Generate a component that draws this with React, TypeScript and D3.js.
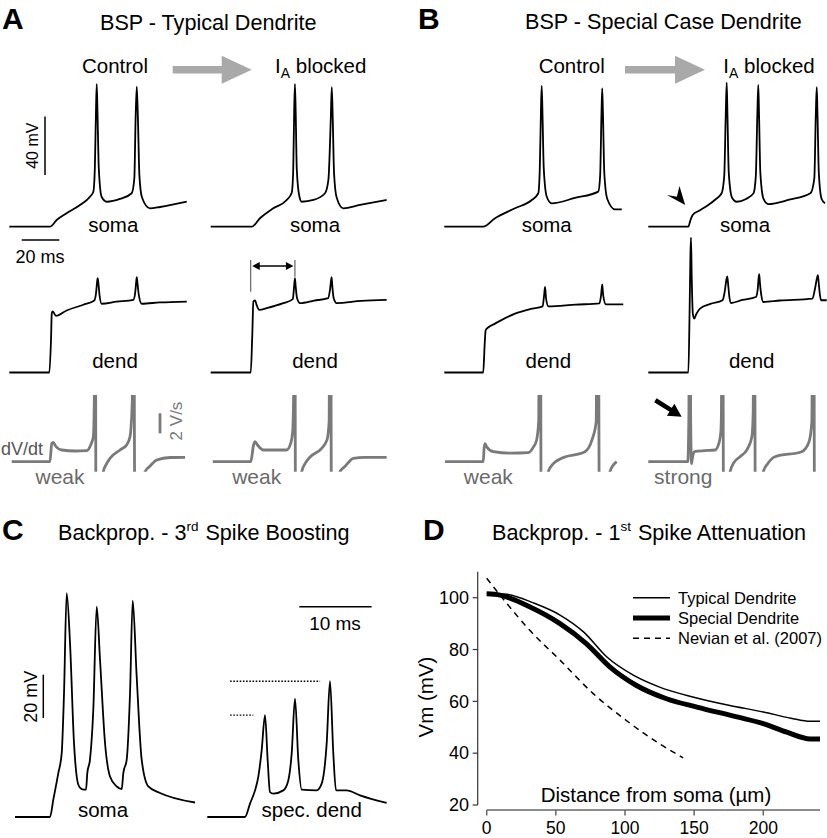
import * as d3 from 'd3';

type Pt = [number, number];

// ---------- A / B : time (ms), Vm (mV), dV/dt (V/s) ----------
const somaCtrlA: Pt[] = [[0,-65],[21.6,-65],[25.2,-60.4],[30.5,-55.8],[37.6,-50.1],[42.9,-44.5],[44.7,-41],[45.5,-25],[46.1,14],[46.5,32.7],[46.9,14],[47.6,-25],[49.1,-44.5],[51.8,-47.9],[58.9,-46],[65.1,-42.1],[66.5,-32],[67.2,10],[67.8,30.9],[68.4,10],[69.2,-30],[70.6,-45],[74.8,-52.4],[80.2,-51.5],[94.4,-47.9]];
const somaBlkA: Pt[] = [[0,-65],[21.8,-65],[26.2,-59.2],[33.3,-52.4],[40.4,-46.7],[43.1,-41.7],[43.9,-26],[44.4,14],[44.8,32.7],[45.2,14],[45.8,-26],[47.2,-44.5],[48.4,-47.9],[54.6,-46.7],[60.8,-42.1],[62.6,-33],[63.9,10],[64.4,30.5],[64.9,10],[65.6,-28],[67.0,-45],[70.5,-52.4],[79.4,-50.1],[93.6,-46.7]];
const dendCtrlA: Pt[] = [[0,-65],[21.3,-65],[22.2,-42],[22.6,-24.3],[23.1,-23.2],[24.8,-26.2],[30.5,-22.5],[39.4,-18.6],[45.2,-15.7],[46.2,-10],[46.7,-3],[47.0,-0.3],[47.4,-4],[48.0,-12],[49.1,-17.9],[57,-16.5],[66.0,-15.2],[67.0,-10],[67.5,-3],[67.8,0.3],[68.2,-4],[68.9,-12],[70.4,-17.9],[80,-17],[94.4,-16.4]];
const dendBlkA: Pt[] = [[0,-65],[21.3,-65],[22.1,-40],[22.7,-16.4],[23.6,-15.7],[24.5,-19],[25.9,-22.1],[29.8,-20.9],[38.6,-17.5],[43.7,-14.7],[44.3,-7],[44.8,-0.3],[45.2,-6],[45.9,-14],[47.5,-17.5],[55,-15.8],[62.5,-14],[63.5,-8],[64.3,0.3],[64.7,-6],[65.4,-14],[67.0,-17.5],[80,-16],[93.6,-15.2]];
const dvCtrlA: Pt[] = [[1.3,0],[21.6,0],[22.6,1.84],[23.4,1.94],[24.6,1.57],[27.9,1.17],[34.9,1.07],[41.2,1.1],[43.5,1.77],[44.7,2.5],[45.2,6],[45.6,40],[46.0,0],[46.3,-20],[47.5,-8],[49.0,-2.5],[50.0,-1.0],[51.5,-0.3],[53.6,0.34],[58.9,1.17],[62.5,1.7],[64.2,2.5],[65.4,6],[65.9,40],[66.6,0],[67.2,-20],[68.4,-8],[70.6,-2.5],[72.2,-1.0],[74.9,-0.43],[78.4,0.17],[85.6,0.42],[93.5,0.44]];
const dvBlkA: Pt[] = [[1.1,0],[21.3,0],[22.8,1.67],[23.6,2.0],[24.9,1.67],[28.0,1.17],[40.4,1.17],[42.5,1.8],[43.6,3],[44.2,8],[44.6,40],[45.0,0],[45.3,-20],[46.3,-8],[47.6,-2.5],[48.4,-1.0],[50.5,-0.1],[53.0,0.5],[59.0,1.34],[61.9,2.2],[63.0,4],[63.6,40],[64.1,0],[64.5,-20],[65.7,-8],[67.6,-2.5],[68.8,-1.0],[71.5,-0.45],[75.9,0.34],[82,0.43],[93.6,0.44]];

const somaCtrlB: Pt[] = [[0,-65],[20.7,-65],[27.0,-59.2],[37.6,-52.4],[46.5,-46.7],[50.0,-42.1],[50.8,-25],[51.4,14],[51.8,31.4],[52.2,14],[52.9,-25],[54.5,-44.5],[57.1,-49.0],[69.5,-45.3],[81.9,-41.0],[82.9,-30],[83.6,12],[84.0,29.8],[84.4,12],[85.1,-28],[86.7,-46],[90.8,-53.1],[94.4,-53.1]];
const somaBlkB: Pt[] = [[0,-65],[21.3,-65],[22.3,-61],[23.6,-57],[27,-54],[31.9,-50.1],[36,-46],[39.0,-42.1],[40.4,-30],[41.2,12],[41.7,33.6],[42.1,12],[42.8,-28],[44.5,-45],[47.0,-47.9],[52,-46],[56.0,-42],[57.2,-30],[58.0,12],[58.5,32.1],[58.9,12],[59.6,-28],[61.3,-46],[63.8,-49.5],[75,-46.5],[86.2,-42.1],[88.3,-32],[89.1,12],[89.6,30.5],[90.0,12],[90.7,-28],[92.2,-46],[94.0,-49]];
const dendCtrlB: Pt[] = [[0,-65],[20.7,-65],[21.5,-45],[22.0,-36.1],[23.5,-34],[27.0,-31.5],[37.6,-24.7],[46,-21.5],[52.3,-19.7],[53.1,-12],[53.6,-6.4],[54.1,-14],[55.4,-19.7],[70,-18.5],[82.5,-17.7],[83.4,-12],[84.0,-4.6],[84.5,-12],[86,-18.4],[95.2,-18.4]];
const dendBlkB: Pt[] = [[0,-65],[21.3,-65],[22.0,-20],[22.4,15],[22.7,27.4],[23.1,0],[23.7,-25],[24.5,-28.1],[25.5,-25],[27.5,-21.2],[33,-18],[39.5,-15.5],[40.6,-10],[41.6,-1],[42.0,0.9],[42.5,-5],[43.1,-13],[44.0,-17.4],[50,-15.3],[57.2,-13.3],[58.2,-8],[58.7,0],[59.0,2.3],[59.4,-4],[60.1,-12],[61.2,-16.7],[70,-15.7],[87.3,-14.4],[88.6,-8],[89.8,0],[90.2,1.6],[90.6,-3],[91.2,-11],[91.9,-15.5],[94.9,-15.5]];
const dvCtrlB: Pt[] = [[0.4,0],[20.7,0],[21.2,1.4],[21.7,1.8],[22.5,1.5],[26.1,1.0],[35,0.85],[44.7,0.9],[47.5,1.5],[49.1,2.17],[50.2,4],[50.9,40],[51.4,0],[51.8,-20],[53,-8],[54.5,-2.5],[55.3,-1.0],[58,-0.2],[62.4,0.34],[74.8,1.0],[78.6,2.2],[80.8,4],[81.6,40],[82.3,0],[82.8,-20],[84,-8],[86.5,-2.5],[88.1,-1.0],[91.7,0]];
const dvBlkB: Pt[] = [[0,0],[21.0,0],[21.6,5],[22.0,40],[22.5,5],[23.0,-0.2],[23.4,0.3],[24.5,1.0],[30,1.1],[35.5,1.17],[37.5,1.8],[38.6,3],[38.9,5],[39.4,40],[39.9,0],[40.4,-20],[41.6,-8],[43,-2.5],[43.5,-1.0],[45.5,-0.1],[48.8,0.5],[52.5,1.2],[55.1,2.5],[55.8,5],[56.3,40],[56.8,0],[57.3,-20],[58.4,-8],[60,-2.5],[61.2,-1.0],[63.5,-0.2],[67.4,0.5],[81.6,1.0],[85.5,2.0],[87.0,4],[87.8,40],[88.3,0],[88.7,-20],[90,-8],[93,-3]];

// onset -> first dendritic spike interval (ms), column "IA blocked" of A
const intervalMarks = [21.3, 44.8];

// ---------- C : time (ms), Vm (mV) ----------
const somaC: Pt[] = [[0,-65],[4.84,-65],[5.30,-57.0],[5.99,-44.7],[6.46,-35.5],[6.78,-7.8],[7.15,38.4],[7.61,15.3],[8.16,-30.8],[8.76,-50.1],[9.23,-52.1],[9.82,-52.4],[10.0,-44.7],[10.37,-38.5],[10.83,-15.5],[11.30,32.2],[11.76,7.6],[12.45,-30.8],[13.14,-46.3],[14.07,-50.9],[14.76,-52.1],[14.98,-44.7],[15.45,-38.5],[15.91,-7.8],[16.28,34.9],[16.83,-0.1],[17.52,-38.5],[18.44,-50.9],[20.06,-53.9],[24.9,-58.3]];
const specDendC: Pt[] = [[0,-65],[5.21,-65],[5.91,-58.8],[6.60,-52.7],[7.05,-46.5],[7.52,-34.2],[7.98,-18.0],[8.35,-38.8],[8.67,-53.5],[9.13,-54.2],[10.51,-52.7],[11.20,-48.1],[11.67,-35.7],[12.13,-10.3],[12.59,-38.8],[13.06,-52.4],[15.13,-52.7],[15.82,-49.6],[16.51,-31.1],[16.97,-2.3],[17.43,-35.7],[17.80,-52.7],[19.28,-52.7],[21.12,-55.0],[24.81,-58.5]];
// dotted reference levels: [mV, t start, t end]
const refLevels: [number, number, number][] = [[-2.3, 3.15, 15.6], [-17.9, 3.15, 6.36]];

// ---------- D : distance (µm), Vm (mV) ----------
const typicalD: Pt[] = [[0,101.7],[14.5,101.3],[33.7,98],[53,93.3],[70,86.8],[86.7,77.2],[106,70.1],[125,65.5],[149,61.7],[175,58.5],[200,55.9],[220,53.5],[234,52.3],[241,52.3]];
const specialD: Pt[] = [[0,101.5],[9.6,101],[31,96.5],[53,90],[72,82.3],[89,73.3],[108,66.2],[130,61],[152,57.8],[181,54],[200,51.4],[217,48.1],[234,45.5],[241,45.5]];
const nevianD: Pt[] = [[0,107.5],[14.5,97.8],[31,87.5],[53,75.9],[77,63],[101,52.6],[125,43.6],[142,38.2]];
const xTicksD = [0, 50, 100, 150, 200];
const yTicksD = [20, 40, 60, 80, 100];
const legendD = [
  { label: 'Typical Dendrite', w: 1.5, dash: '' },
  { label: 'Special Dendrite', w: 5, dash: '' },
  { label: 'Nevian et al. (2007)', w: 1.5, dash: '6,5' },
];

const FONT = '"Liberation Sans", Arial, Helvetica, sans-serif';
const GREY = '#7a7a7a';

export default function App() {
  // A/B column scales: 100 ms -> 188 px
  const colStart = [9.3, 210.7, 444.3, 648.3];
  const tx = colStart.map(s => d3.scaleLinear().domain([0, 100]).range([s, s + 188]));
  const ySoma = d3.scaleLinear().domain([-65, 35]).range([226.7, 80.7]);
  const yDend = d3.scaleLinear().domain([-65, 35]).range([372.5, 226.5]);
  const yDv = d3.scaleLinear().domain([0, 10]).range([461.7, 361.7]);

  const mk = (x: d3.ScaleLinear<number, number>, y: d3.ScaleLinear<number, number>) =>
    d3.line<Pt>().x(d => x(d[0])).y(d => y(d[1])).curve(d3.curveMonotoneX);

  const traces = [
    { d: somaCtrlA, c: 0, y: ySoma }, { d: somaBlkA, c: 1, y: ySoma },
    { d: somaCtrlB, c: 2, y: ySoma }, { d: somaBlkB, c: 3, y: ySoma },
    { d: dendCtrlA, c: 0, y: yDend }, { d: dendBlkA, c: 1, y: yDend },
    { d: dendCtrlB, c: 2, y: yDend }, { d: dendBlkB, c: 3, y: yDend },
  ];
  const dvTraces = [
    { d: dvCtrlA, c: 0 }, { d: dvBlkA, c: 1 }, { d: dvCtrlB, c: 2 }, { d: dvBlkB, c: 3 },
  ];

  // C scales: 10 ms -> 72.3 px, 20 mV -> 43.3 px
  const cxSoma = d3.scaleLinear().domain([0, 10]).range([15, 87.3]);
  const cxDend = d3.scaleLinear().domain([0, 10]).range([207.3, 279.6]);
  const cy = d3.scaleLinear().domain([-65, -45]).range([817, 773.7]);

  // D scales
  const xD = d3.scaleLinear().domain([0, 200]).range([486.7, 763.3]);
  const yD = d3.scaleLinear().domain([20, 100]).range([805, 597.7]);
  const lineD = mk(xD, yD);

  const grayArrow = (xs: number, xt: number, cyy: number) => {
    const xh = xt - 30;
    return `M${xs},${cyy - 3.7}L${xh},${cyy - 3.7}L${xh},${cyy - 14}L${xt},${cyy}L${xh},${cyy + 14}L${xh},${cyy + 3.7}L${xs},${cyy + 3.7}Z`;
  };

  const iaLabel = (x: number) => (
    <text x={x} y={73.3} fontSize={20.5}>
      I<tspan fontSize={14} dy={5}>A</tspan><tspan dy={-5}> blocked</tspan>
    </text>
  );

  // interval marker in A
  const xL = tx[1](intervalMarks[0]);
  const xR = tx[1](intervalMarks[1]);
  const ya = 266;

  // arrowhead pointing at the step in B soma (IA blocked)
  const stepX = tx[3](23.6), stepY = ySoma(-57);
  const tipX = stepX - 7.5, tipY = stepY - 10;
  // arrow pointing at strong dV/dt spike
  const aTipX = tx[3](22.0) - 8, aTipY = yDv(4.5);
  const ux = 0.848, uy = 0.53, px = -0.53, py = 0.848;

  return (
    <svg width={827} height={838} style={{ position: 'absolute', left: 0, top: 0, background: '#fff' }}
      fontFamily={FONT} fill="#000">
      <defs>
        <clipPath id="dvclip"><rect x={0} y={395} width={827} height={76.7} /></clipPath>
      </defs>

      {/* panel letters and titles */}
      <text x={2} y={29} fontSize={30} fontWeight="bold">A</text>
      <text x={418} y={29} fontSize={30} fontWeight="bold">B</text>
      <text x={2} y={540} fontSize={30} fontWeight="bold">C</text>
      <text x={423} y={540} fontSize={30} fontWeight="bold">D</text>
      <text x={100} y={30} fontSize={21.6}>BSP - Typical Dendrite</text>
      <text x={525} y={29} fontSize={21.6}>BSP - Special Case Dendrite</text>
      <text x={58} y={540} fontSize={21.6}>
        Backprop. - 3<tspan fontSize={13.5} dy={-9}>rd</tspan><tspan dy={9} dx={7}>Spike Boosting</tspan>
      </text>
      <text x={492} y={540} fontSize={21.6}>
        Backprop. - 1<tspan fontSize={13.5} dy={-9}>st</tspan><tspan dy={9} dx={7}>Spike Attenuation</tspan>
      </text>

      {/* condition headers */}
      <text x={115} y={73.3} fontSize={20.5} textAnchor="middle">Control</text>
      <text x={571.7} y={73.3} fontSize={20.5} textAnchor="middle">Control</text>
      {iaLabel(275)}
      {iaLabel(723.3)}
      <path d={grayArrow(172.7, 251.7, 69.7)} fill="#a9a9a9" />
      <path d={grayArrow(625, 705, 69.7)} fill="#a9a9a9" />

      {/* voltage traces */}
      {traces.map((t, i) => (
        <path key={i} d={mk(tx[t.c], t.y)(t.d) || ''} fill="none" stroke="#000" strokeWidth={1.8} strokeLinejoin="round" />
      ))}
      <g clipPath="url(#dvclip)">
        {dvTraces.map((t, i) => (
          <path key={i} d={mk(tx[t.c], yDv)(t.d) || ''} fill="none" stroke={GREY} strokeWidth={2.8} strokeLinejoin="round" />
        ))}
      </g>

      {/* trace labels */}
      {[113.3, 315, 546.7, 745].map((x, i) => (
        <text key={'s' + i} x={x} y={231.7} fontSize={20.5} textAnchor="middle">soma</text>
      ))}
      {[115, 315, 548.3, 751.7].map((x, i) => (
        <text key={'d' + i} x={x} y={368.3} fontSize={20.5} textAnchor="middle">dend</text>
      ))}
      {[60, 256.7, 488.3].map((x, i) => (
        <text key={'w' + i} x={x} y={484} fontSize={21} textAnchor="middle" fill="#6a6a6a">weak</text>
      ))}
      <text x={683.3} y={484} fontSize={21} textAnchor="middle" fill="#6a6a6a">strong</text>
      <text x={1} y={455} fontSize={18} fill="#555">dV/dt</text>

      {/* scale bars A */}
      <line x1={45} x2={45} y1={ySoma(-65) - 51.7} y2={ySoma(-65) - 51.7 - (ySoma(-65) - ySoma(-25))} stroke="#000" strokeWidth={1.5} />
      <text transform="translate(38,145.7) rotate(-90)" fontSize={16} textAnchor="middle">40 mV</text>
      <line x1={21.7} x2={21.7 + (tx[0](20) - tx[0](0))} y1={240} y2={240} stroke="#000" strokeWidth={1.5} />
      <text x={40} y={263.3} fontSize={18} textAnchor="middle">20 ms</text>
      <line x1={160} x2={160} y1={433.3} y2={433.3 - (yDv(0) - yDv(2))} stroke={GREY} strokeWidth={2.8} />
      <text transform="translate(182,421) rotate(-90)" fontSize={17} textAnchor="middle" fill={GREY}>2 V/s</text>

      {/* interval marker */}
      <line x1={xL} x2={xL} y1={260} y2={291.7} stroke="#444" strokeWidth={1} />
      <line x1={xR} x2={xR} y1={260} y2={276.7} stroke="#444" strokeWidth={1} />
      <line x1={xL + 6} x2={xR - 6} y1={ya} y2={ya} stroke="#000" strokeWidth={1.6} />
      <path d={`M${xL + 1.5},${ya}L${xL + 9},${ya - 4}L${xL + 9},${ya + 4}Z`} />
      <path d={`M${xR - 1.5},${ya}L${xR - 9},${ya - 4}L${xR - 9},${ya + 4}Z`} />

      {/* arrowhead in B soma */}
      <path d={`M${tipX},${tipY}L${tipX - 5.7},${tipY - 19}L${tipX - 8.3},${tipY - 8.3}L${tipX - 18.3},${tipY - 10}Z`} />
      {/* arrow in B dV/dt */}
      <line x1={aTipX - 31 * ux} y1={aTipY - 31 * uy} x2={aTipX - 9 * ux} y2={aTipY - 9 * uy} stroke="#000" strokeWidth={4.5} />
      <path d={`M${aTipX},${aTipY}L${aTipX - 13 * ux + 7 * px},${aTipY - 13 * uy + 7 * py}L${aTipX - 13 * ux - 7 * px},${aTipY - 13 * uy - 7 * py}Z`} />

      {/* panel C */}
      <path d={mk(cxSoma, cy)(somaC) || ''} fill="none" stroke="#000" strokeWidth={1.8} strokeLinejoin="round" />
      <path d={mk(cxDend, cy)(specDendC) || ''} fill="none" stroke="#000" strokeWidth={1.8} strokeLinejoin="round" />
      {refLevels.map(([v, t0, t1], i) => (
        <line key={i} x1={cxDend(t0)} x2={cxDend(t1)} y1={cy(v)} y2={cy(v)} stroke="#000" strokeWidth={1.3} strokeDasharray="1.6,1.6" />
      ))}
      <line x1={43.3} x2={43.3} y1={718} y2={718 - (cy(-65) - cy(-45))} stroke="#000" strokeWidth={1.5} />
      <text transform="translate(37,696.7) rotate(-90)" fontSize={18} textAnchor="middle">20 mV</text>
      <line x1={299.3} x2={299.3 + (cxDend(10) - cxDend(0))} y1={606.7} y2={606.7} stroke="#000" strokeWidth={1.5} />
      <text x={335} y={630} fontSize={19} textAnchor="middle">10 ms</text>
      <text x={103} y={817} fontSize={20.5} textAnchor="middle">soma</text>
      <text x={311.7} y={817} fontSize={20.5} textAnchor="middle">spec. dend</text>

      {/* panel D */}
      <line x1={477.7} x2={477.7} y1={yD(20)} y2={yD(110)} stroke="#333" strokeWidth={1.2} />
      {yTicksD.map(v => (
        <g key={v}>
          <line x1={472.7} x2={477.7} y1={yD(v)} y2={yD(v)} stroke="#333" strokeWidth={1.2} />
          <text x={469} y={yD(v) + 6.3} fontSize={18} textAnchor="end">{v}</text>
        </g>
      ))}
      <line x1={xD(0)} x2={xD(241)} y1={810} y2={810} stroke="#666" strokeWidth={1.5} />
      {xTicksD.map(v => (
        <g key={v}>
          <line x1={xD(v)} x2={xD(v)} y1={810} y2={815.5} stroke="#666" strokeWidth={1.5} />
          <text x={xD(v)} y={834} fontSize={17.5} textAnchor="middle">{v}</text>
        </g>
      ))}
      <text transform="translate(433,697) rotate(-90)" fontSize={20.5} textAnchor="middle">Vm (mV)</text>
      <text x={656} y={802} fontSize={20.5} textAnchor="middle">Distance from soma (µm)</text>
      <path d={lineD(nevianD) || ''} fill="none" stroke="#000" strokeWidth={1.5} strokeDasharray="6,5" />
      <path d={lineD(typicalD) || ''} fill="none" stroke="#000" strokeWidth={1.5} />
      <path d={lineD(specialD) || ''} fill="none" stroke="#000" strokeWidth={5} />
      {legendD.map((l, i) => (
        <g key={l.label}>
          <line x1={633} x2={670} y1={597.7 + i * 20.3} y2={597.7 + i * 20.3} stroke="#000" strokeWidth={l.w} strokeDasharray={l.dash || undefined} />
          <text x={678} y={597.7 + i * 20.3 + 5.8} fontSize={16.5}>{l.label}</text>
        </g>
      ))}
    </svg>
  );
}
